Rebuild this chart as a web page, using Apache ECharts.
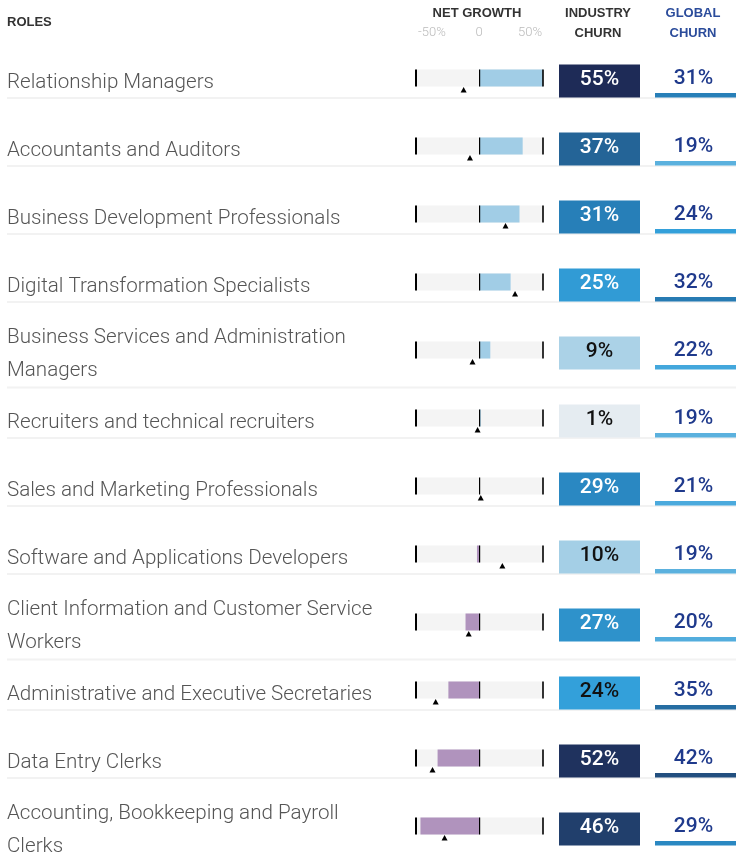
<!DOCTYPE html>
<html>
<head>
<meta charset="utf-8">
<script src="https://cdn.jsdelivr.net/npm/echarts@6/dist/echarts.min.js"></script>
<style>
  html, body { margin: 0; padding: 0; background: #fff; }
  #chart { width: 736px; height: 852px; }
</style>
</head>
<body>
<div id="chart"></div>
<script>
// roles, top to bottom
const roles = [
  'Relationship Managers',
  'Accountants and Auditors',
  'Business Development Professionals',
  'Digital Transformation Specialists',
  'Business Services and Administration Managers',
  'Recruiters and technical recruiters',
  'Sales and Marketing Professionals',
  'Software and Applications Developers',
  'Client Information and Customer Service Workers',
  'Administrative and Executive Secretaries',
  'Data Entry Clerks',
  'Accounting, Bookkeeping and Payroll Clerks'
];
// net growth (%) - bar
const netGrowth = [50, 34, 31.5, 24.5, 8.5, 1, 0, -2, -11, -24.5, -33, -46.5];
// global net growth (%) - triangle marker
const globalGrowth = [-12.5, -7.5, 20.5, 28, -5.5, -1.5, 1, 18, -8.5, -34.5, -37, -27.5];
const industryChurn = [55, 37, 31, 25, 9, 1, 29, 10, 27, 24, 52, 46];
const globalChurn = [31, 19, 24, 32, 22, 19, 21, 19, 20, 35, 42, 29];
const netTickLabels = ['-50%', '0', '50%'];

const ROW_H = 68;
const LABEL_FONT = '300 20.6px Roboto, "Liberation Sans", sans-serif';
const VALUE_FONT = '500 21px Roboto, "Liberation Sans", sans-serif';
const LABEL_WRAP = 385;

// churn colour scale (value -> colour)
const churnStops = [
  [0, '#eceff2'], [10, '#a4cfe6'], [24, '#33a0da'], [31, '#277fb8'],
  [37, '#246497'], [46, '#213f6c'], [55, '#1e2b57']
];
function churnColor(v) {
  for (let k = 1; k < churnStops.length; k++) {
    if (v <= churnStops[k][0]) {
      const a = churnStops[k - 1], b = churnStops[k];
      return echarts.color.lerp((v - a[0]) / (b[0] - a[0]), [a[1], b[1]]);
    }
  }
  return churnStops[churnStops.length - 1][1];
}

// measure to know which labels wrap to two lines
const ctx = document.createElement('canvas').getContext('2d');
ctx.font = LABEL_FONT;
const twoLines = roles.map(r => ctx.measureText(r).width > LABEL_WRAP);

const chart = echarts.init(document.getElementById('chart'));

const gridBase = { top: 47, height: ROW_H * roles.length, containLabel: false, outerBoundsMode: 'none' };
const catAxis = idx => ({ gridIndex: idx, type: 'category', data: roles, inverse: true, show: false });

function renderLabel(params, api) {
  const i = api.value(1);
  const p = api.coord([0, i]);
  const sep = p[1] + (twoLines[i] ? 34.5 : 17);
  return {
    type: 'group',
    children: [
      {
        type: 'line',
        shape: { x1: 7, y1: sep, x2: api.getWidth(), y2: sep },
        style: { stroke: '#f2f2f2', lineWidth: 2 },
        z2: 0
      },
      {
        type: 'text',
        style: {
          text: roles[i], x: p[0] + 7, y: p[1] + 1.5,
          font: LABEL_FONT, fill: '#555',
          verticalAlign: 'middle', align: 'left',
          width: LABEL_WRAP, overflow: 'break', lineHeight: 33
        },
        z2: 1
      }
    ]
  };
}

function renderNet(params, api) {
  const v = api.value(0), g = api.value(1), i = api.value(2);
  const c = api.coord([0, i])[1];
  const x = val => api.coord([val, i])[0];
  const top = c - 11.5, h = 17;
  const xv = x(v), x0 = x(0);
  return {
    type: 'group',
    children: [
      { type: 'rect', shape: { x: x(-50), y: top, width: x(50) - x(-50), height: h }, style: { fill: '#f4f4f4' } },
      { type: 'rect', shape: { x: Math.min(xv, x0), y: top, width: Math.abs(xv - x0), height: h },
        style: { fill: v >= 0 ? '#a1cde6' : '#b093bd' } },
      { type: 'rect', shape: { x: x(-50) - 1, y: top, width: 2, height: h }, style: { fill: '#000' } },
      { type: 'rect', shape: { x: x0 - 0.5, y: top, width: 1.2, height: h }, style: { fill: '#000' } },
      { type: 'rect', shape: { x: x(50) - 0.8, y: top, width: 1.6, height: h }, style: { fill: '#000' } },
      { type: 'polygon', shape: { points: [[x(g) - 3, c + 11.5], [x(g) + 3, c + 11.5], [x(g), c + 6]] },
        style: { fill: '#000' } }
    ]
  };
}

function renderIndustry(params, api) {
  const v = api.value(0), i = api.value(1);
  const a = api.coord([0, i]), b = api.coord([1, i]);
  return {
    type: 'group',
    children: [
      { type: 'rect', shape: { x: a[0], y: a[1] - 16.5, width: b[0] - a[0], height: 33 },
        style: { fill: churnColor(v) } },
      { type: 'text', style: {
          text: v + '%', x: (a[0] + b[0]) / 2, y: a[1] - 1,
          align: 'center', verticalAlign: 'middle',
          font: VALUE_FONT, fill: v < 25 ? '#111' : '#fff' } }
    ]
  };
}

function renderGlobal(params, api) {
  const v = api.value(0), i = api.value(1);
  const a = api.coord([0, i]), b = api.coord([1, i]);
  return {
    type: 'group',
    children: [
      { type: 'rect', shape: { x: a[0], y: a[1] + 12, width: b[0] - a[0], height: 4.5 },
        style: { fill: churnColor(v) } },
      { type: 'text', style: {
          text: v + '%', x: (a[0] + b[0]) / 2 - 2, y: a[1] - 2,
          align: 'center', verticalAlign: 'middle',
          font: VALUE_FONT, fill: '#1f3a8c' } }
    ]
  };
}

const headFont = 'bold 13px "Liberation Sans", Arial, sans-serif';
const headText = (text, x, y, fill, align) => ({
  type: 'text', x: x, y: y,
  style: { text: text, font: headFont, fill: fill || '#333', align: align || 'center', verticalAlign: 'middle' }
});
const tickX = [432, 479, 530];

const option = {
  animation: false,
  backgroundColor: '#fff',
  grid: [
    Object.assign({ left: 0, width: 400 }, gridBase),
    Object.assign({ left: 416, width: 127 }, gridBase),
    Object.assign({ left: 559, width: 81 }, gridBase),
    Object.assign({ left: 655, width: 81 }, gridBase)
  ],
  xAxis: [
    { gridIndex: 0, type: 'value', min: 0, max: 1, show: false },
    { gridIndex: 1, type: 'value', min: -50, max: 50, show: false },
    { gridIndex: 2, type: 'value', min: 0, max: 1, show: false },
    { gridIndex: 3, type: 'value', min: 0, max: 1, show: false }
  ],
  yAxis: [catAxis(0), catAxis(1), catAxis(2), catAxis(3)],
  graphic: [
    headText('ROLES', 7, 22, '#333', 'left'),
    headText('NET GROWTH', 477, 13),
    headText('INDUSTRY', 598, 13),
    headText('CHURN', 598, 33),
    headText('GLOBAL', 693, 13, '#2b4c9b'),
    headText('CHURN', 693, 33, '#2b4c9b')
  ].concat(netTickLabels.map((t, k) => ({
    type: 'text', x: tickX[k], y: 33,
    style: { text: t, font: '300 13px Roboto, "Liberation Sans", sans-serif', fill: '#bbb',
             align: 'center', verticalAlign: 'middle' }
  }))),
  series: [
    { type: 'custom', xAxisIndex: 0, yAxisIndex: 0, z: 1, renderItem: renderLabel,
      data: roles.map(r => [0, r]), encode: { x: 0, y: 1 } },
    { type: 'custom', xAxisIndex: 1, yAxisIndex: 1, z: 2, renderItem: renderNet,
      data: roles.map((r, i) => [netGrowth[i], globalGrowth[i], r]), encode: { x: [0, 1], y: 2 } },
    { type: 'custom', xAxisIndex: 2, yAxisIndex: 2, z: 2, renderItem: renderIndustry,
      data: roles.map((r, i) => [industryChurn[i], r]), encode: { x: 0, y: 1 } },
    { type: 'custom', xAxisIndex: 3, yAxisIndex: 3, z: 2, renderItem: renderGlobal,
      data: roles.map((r, i) => [globalChurn[i], r]), encode: { x: 0, y: 1 } }
  ]
};

chart.setOption(option);
</script>
</body>
</html>
